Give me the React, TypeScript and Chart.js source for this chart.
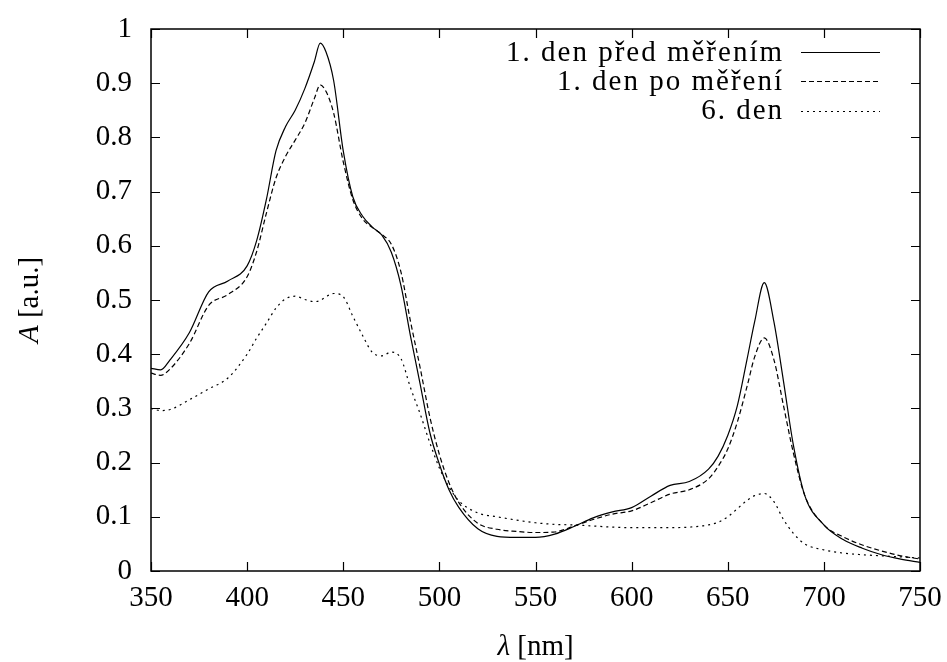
import React, { useEffect, useRef } from "react";
import { Chart, registerables } from "chart.js";

Chart.register(...registerables);

// Wavelength grid [nm]
const wavelengths = [
  350, 355, 360, 370, 380, 390, 400, 405, 410, 415, 420, 425, 430, 435, 438, 441, 445, 450, 455, 460,
  465, 470, 475, 480, 485, 490, 495, 500, 505, 510, 520, 530, 540, 550, 560, 570, 580, 590, 600, 610,
  620, 630, 640, 645, 650, 655, 660, 664, 669, 674, 679, 684, 690, 700, 710, 720, 730, 740, 750,
];

// 1. den před měřením
const dayOneBefore = [
  0.374, 0.371, 0.39, 0.44, 0.515, 0.535, 0.563, 0.61, 0.685, 0.775, 0.82, 0.85, 0.89, 0.94, 0.974, 0.958, 0.905, 0.775, 0.69, 0.655,
  0.635, 0.62, 0.588, 0.527, 0.433, 0.345, 0.256, 0.197, 0.15, 0.118, 0.078, 0.064, 0.062, 0.062, 0.068, 0.082, 0.098, 0.109, 0.117, 0.138,
  0.158, 0.165, 0.188, 0.212, 0.25, 0.305, 0.39, 0.46, 0.532, 0.46, 0.35, 0.235, 0.14, 0.085, 0.058, 0.042, 0.03, 0.022, 0.016,
];

// 1. den po měření
const dayOneAfter = [
  0.365, 0.361, 0.373, 0.42, 0.49, 0.51, 0.543, 0.59, 0.66, 0.725, 0.765, 0.795, 0.826, 0.872, 0.897, 0.885, 0.845, 0.755, 0.685, 0.65,
  0.634, 0.621, 0.603, 0.552, 0.46, 0.375, 0.285, 0.215, 0.163, 0.127, 0.088, 0.077, 0.073, 0.071, 0.072, 0.083, 0.095, 0.105, 0.111, 0.126,
  0.142, 0.15, 0.17, 0.193, 0.225, 0.275, 0.34, 0.395, 0.43, 0.39, 0.305, 0.22, 0.14, 0.085, 0.063, 0.048, 0.037, 0.028, 0.022,
];

// 6. den
const daySix = [
  0.3, 0.296, 0.298, 0.316, 0.336, 0.356, 0.4, 0.43, 0.457, 0.485, 0.502, 0.507, 0.501, 0.497, 0.499, 0.506, 0.512, 0.506, 0.47, 0.435,
  0.404, 0.397, 0.404, 0.392, 0.338, 0.29, 0.237, 0.19, 0.155, 0.13, 0.107, 0.1, 0.094, 0.089, 0.086, 0.085, 0.083, 0.081, 0.08, 0.08,
  0.08, 0.081, 0.085, 0.09, 0.1, 0.115, 0.13, 0.139, 0.143, 0.128, 0.095, 0.07, 0.05, 0.039, 0.033, 0.03, 0.028, 0.026, 0.024,
];

const seriesLabels = ["1. den před měřením", "1. den po měření", "6. den"];
const seriesDashes: number[][] = [[], [5, 3], [2, 4]];
const seriesValues = [dayOneBefore, dayOneAfter, daySix];

const xTicks = [350, 400, 450, 500, 550, 600, 650, 700, 750];
const yTicks = [0, 0.1, 0.2, 0.3, 0.4, 0.5, 0.6, 0.7, 0.8, 0.9, 1];

const FONT_FAMILY = "'Liberation Serif', 'Times New Roman', serif";
const FONT_SIZE = 29;

const W = 947;
const H = 662;
const PLOT_LEFT = 151;
const PLOT_TOP = 29;
const PLOT_RIGHT = 920;
const PLOT_BOTTOM = 571;
const TICK_LEN = 9;

function drawMixed(ctx: CanvasRenderingContext2D, parts: { t: string; italic: boolean }[], cx: number, cy: number) {
  const fonts = parts.map((p) => `${p.italic ? "italic " : ""}${FONT_SIZE}px ${FONT_FAMILY}`);
  let total = 0;
  const widths = parts.map((p, i) => {
    ctx.font = fonts[i];
    const w = ctx.measureText(p.t).width;
    total += w;
    return w;
  });
  let x = cx - total / 2;
  ctx.textAlign = "left";
  ctx.textBaseline = "middle";
  parts.forEach((p, i) => {
    ctx.font = fonts[i];
    ctx.fillText(p.t, x, cy);
    x += widths[i];
  });
}

const decorPlugin = {
  id: "decor",
  afterDraw(chart: any) {
    const { ctx, chartArea: a, scales } = chart;
    ctx.save();
    ctx.strokeStyle = "#000";
    ctx.fillStyle = "#000";
    ctx.setLineDash([]);
    ctx.lineWidth = 1.5;
    ctx.strokeRect(a.left, a.top, a.right - a.left, a.bottom - a.top);

    ctx.lineWidth = 1.2;
    ctx.beginPath();
    for (const v of xTicks) {
      const px = Math.round(scales.x.getPixelForValue(v)) + 0.5;
      ctx.moveTo(px, a.bottom);
      ctx.lineTo(px, a.bottom - TICK_LEN);
      ctx.moveTo(px, a.top);
      ctx.lineTo(px, a.top + TICK_LEN);
    }
    for (const v of yTicks) {
      const py = Math.round(scales.y.getPixelForValue(v)) + 0.5;
      ctx.moveTo(a.left, py);
      ctx.lineTo(a.left + TICK_LEN, py);
      ctx.moveTo(a.right, py);
      ctx.lineTo(a.right - TICK_LEN, py);
    }
    ctx.stroke();

    // axis titles
    drawMixed(ctx, [{ t: "λ", italic: true }, { t: " [nm]", italic: false }], (a.left + a.right) / 2, 647);
    ctx.save();
    ctx.translate(30, (a.top + a.bottom) / 2);
    ctx.rotate(-Math.PI / 2);
    drawMixed(ctx, [{ t: "A", italic: true }, { t: " [a.u.]", italic: false }], 0, 0);
    ctx.restore();

    // legend
    ctx.font = `${FONT_SIZE}px ${FONT_FAMILY}`;
    ctx.textAlign = "right";
    ctx.textBaseline = "middle";
    seriesLabels.forEach((lab, i) => {
      const y = 52 + i * 29.3;
      ctx.save();
      try {
        (ctx as any).letterSpacing = "2px";
      } catch (e) {}
      ctx.fillText(lab, 784, y + 1);
      ctx.restore();
      ctx.beginPath();
      ctx.setLineDash(seriesDashes[i]);
      ctx.lineWidth = 1.2;
      ctx.moveTo(801, Math.round(y) + 0.5);
      ctx.lineTo(880, Math.round(y) + 0.5);
      ctx.stroke();
    });
    ctx.restore();
  },
};

export default function App() {
  const canvasRef = useRef<HTMLCanvasElement | null>(null);

  useEffect(() => {
    const canvas = canvasRef.current;
    if (!canvas) return;
    const chart = new Chart(canvas, {
      type: "line",
      data: {
        datasets: seriesValues.map((vals, i) => ({
          label: seriesLabels[i],
          data: wavelengths.map((w, j) => ({ x: w, y: vals[j] })),
          borderColor: "#000",
          borderWidth: 1.2,
          borderDash: seriesDashes[i],
          pointRadius: 0,
          fill: false,
          cubicInterpolationMode: "monotone" as const,
        })),
      },
      options: {
        responsive: false,
        animation: false,
        devicePixelRatio: 1,
        layout: { padding: { top: PLOT_TOP, right: W - PLOT_RIGHT, left: 0, bottom: 0 } },
        plugins: { legend: { display: false }, tooltip: { enabled: false }, title: { display: false } },
        scales: {
          x: {
            type: "linear",
            min: 350,
            max: 750,
            grid: { display: false, drawTicks: false },
            border: { display: false },
            ticks: {
              stepSize: 50,
              color: "#000",
              padding: 10,
              maxRotation: 0,
              font: { family: FONT_FAMILY, size: FONT_SIZE },
            },
            afterFit: (s: any) => {
              s.height = H - PLOT_BOTTOM;
              s.paddingLeft = 0;
              s.paddingRight = 0;
            },
          },
          y: {
            type: "linear",
            min: 0,
            max: 1,
            grid: { display: false, drawTicks: false },
            border: { display: false },
            ticks: {
              stepSize: 0.1,
              color: "#000",
              padding: 19,
              font: { family: FONT_FAMILY, size: FONT_SIZE },
              callback: (v: any) => String(Math.round(Number(v) * 10) / 10),
            },
            afterFit: (s: any) => {
              s.width = PLOT_LEFT;
              s.paddingTop = 0;
              s.paddingBottom = 0;
            },
          },
        },
      },
      plugins: [decorPlugin],
    });
    return () => chart.destroy();
  }, []);

  return (
    <div style={{ position: "absolute", left: 0, top: 0, width: W, height: H, background: "#fff" }}>
      <canvas ref={canvasRef} width={W} height={H} style={{ width: W, height: H, display: "block" }} />
    </div>
  );
}
